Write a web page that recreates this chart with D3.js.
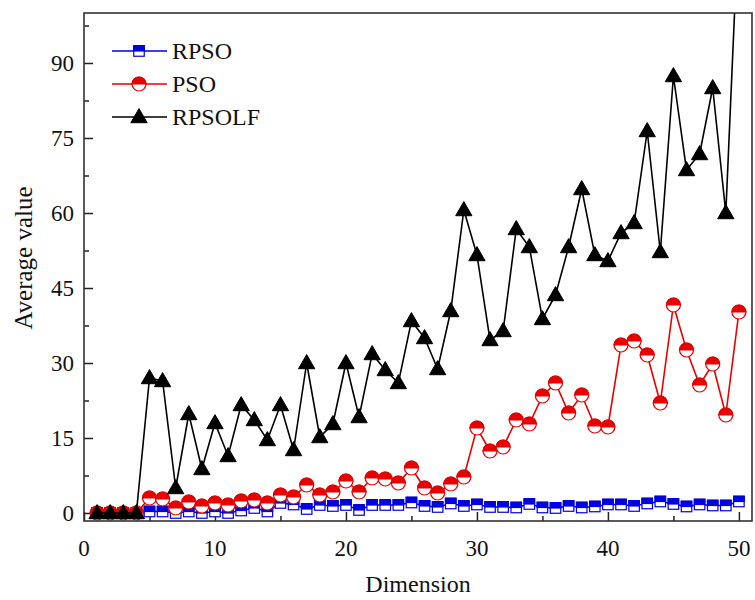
<!DOCTYPE html>
<html>
<head>
<meta charset="utf-8">
<script src="https://cdn.jsdelivr.net/npm/d3@7"></script>
<style>
  body { margin: 0; background: #fff; }
  text { font-family: "Liberation Serif", "DejaVu Serif", serif; }
</style>
</head>
<body>
<svg id="chart" width="755" height="600"></svg>
<script>
// Dimension 1..50
const dims = d3.range(1, 51);

const rpso = [0, 0, 0, 0, 0.3, 0.3, 0, 0.3, 0, 0.3,
  0, 0.5, 1.0, 0.3, 2.0, 1.7, 0.8, 1.6, 1.4, 1.6,
  0.6, 1.6, 1.6, 1.6, 2.1, 1.4, 1.2, 1.9, 1.4, 1.7,
  1.2, 1.2, 1.1, 1.8, 1.1, 1.0, 1.4, 1.1, 1.3, 1.7,
  1.7, 1.4, 1.9, 2.3, 1.8, 1.3, 1.7, 1.5, 1.5, 2.3];

const pso = [0, 0, 0, 0, 3.0, 2.8, 1.0, 2.2, 1.4, 2.0,
  1.6, 2.4, 2.6, 2.0, 3.6, 3.2, 5.6, 3.6, 4.2, 6.4,
  4.2, 7.0, 6.8, 6.0, 9.0, 5.0, 4.0, 5.8, 7.2, 17.0,
  12.4, 13.2, 18.6, 17.8, 23.4, 26.0, 20.0, 23.6, 17.4, 17.2,
  33.6, 34.4, 31.6, 22.0, 41.6, 32.6, 25.6, 29.8, 19.6, 40.2];

const rpsolf = [0, 0, 0, 0, 27.0, 26.4, 5.0, 19.8, 8.8, 18.0,
  11.4, 21.6, 18.6, 14.6, 21.6, 12.6, 30.0, 15.2, 17.8, 30.0,
  19.2, 31.8, 28.6, 26.0, 38.4, 35.0, 28.8, 40.4, 60.6, 51.6,
  34.6, 36.4, 56.8, 53.2, 38.8, 43.6, 53.2, 64.8, 51.6, 50.4,
  56.0, 58.0, 76.4, 52.2, 87.4, 68.6, 71.8, 85.0, 60.0, 120.0];

const yTicks = [0, 15, 30, 45, 60, 75, 90];
const xTicks = [0, 10, 20, 30, 40, 50];

const seriesNames = ["RPSO", "PSO", "RPSOLF"];
const seriesColors = ["#0000e0", "#e60000", "#000000"];
const seriesShapes = ["square", "circle", "triangle"];

const svg = d3.select("#chart");
const pLeft = 84, pRight = 752, pTop = 13, pBottom = 521;

const x = d3.scaleLinear().domain([0, 51]).range([pLeft, pRight]);
const y = d3.scaleLinear().domain([-1.6, 100]).range([pBottom, pTop]);

svg.append("defs").append("clipPath").attr("id", "plotclip")
  .append("rect").attr("x", pLeft).attr("y", pTop)
  .attr("width", pRight - pLeft).attr("height", pBottom - pTop);

// ticks (inward)
const gx = svg.append("g").attr("transform", `translate(0,${pBottom})`)
  .call(d3.axisTop(x).tickValues(d3.range(0, 51, 5)).tickSize(0).tickFormat(""));
gx.select(".domain").remove();
gx.selectAll(".tick line")
  .attr("y2", d => d % 10 === 0 ? -9 : -5)
  .attr("stroke", "#222").attr("stroke-width", 1.5);

const gy = svg.append("g").attr("transform", `translate(${pLeft},0)`)
  .call(d3.axisRight(y).tickValues(d3.range(0, 98, 7.5)).tickSize(0).tickFormat(""));
gy.select(".domain").remove();
gy.selectAll(".tick line")
  .attr("x2", d => d % 15 === 0 ? 9 : 5)
  .attr("stroke", "#222").attr("stroke-width", 1.5);

// tick labels
svg.append("g").selectAll("text").data(xTicks).join("text")
  .attr("x", d => x(d)).attr("y", 556)
  .attr("text-anchor", "middle").attr("font-size", 23).attr("fill", "#111")
  .text(d => d);

svg.append("g").selectAll("text").data(yTicks).join("text")
  .attr("x", 74).attr("y", d => y(d) + 8)
  .attr("text-anchor", "end").attr("font-size", 23).attr("fill", "#111")
  .text(d => d);

// axis titles
svg.append("text").attr("x", 418).attr("y", 592)
  .attr("text-anchor", "middle").attr("font-size", 24).attr("fill", "#111")
  .text("Dimension");
svg.append("text")
  .attr("transform", `translate(32,258) rotate(-90)`)
  .attr("text-anchor", "middle").attr("font-size", 25).attr("fill", "#111")
  .text("Average value");

// marker drawing
function drawMarker(g, shape, color, cx, cy) {
  if (shape === "square") {
    const s = 10.5;
    g.append("rect").attr("x", cx - s / 2).attr("y", cy - s / 2)
      .attr("width", s).attr("height", s).attr("fill", "#fff")
      .attr("stroke", color).attr("stroke-width", 1.2);
    g.append("rect").attr("x", cx - s / 2).attr("y", cy - s / 2)
      .attr("width", s).attr("height", s / 2).attr("fill", color)
      .attr("stroke", color).attr("stroke-width", 1.2);
  } else if (shape === "circle") {
    const r = 7;
    g.append("circle").attr("cx", cx).attr("cy", cy).attr("r", r)
      .attr("fill", "#fff").attr("stroke", color).attr("stroke-width", 1.2);
    g.append("path")
      .attr("d", `M${cx - r},${cy} A${r},${r} 0 0 1 ${cx + r},${cy} Z`)
      .attr("fill", color).attr("stroke", color).attr("stroke-width", 1.2);
  } else {
    g.append("path")
      .attr("d", d3.symbol(d3.symbolTriangle, 115)())
      .attr("transform", `translate(${cx},${cy + 1})`)
      .attr("fill", color).attr("stroke", color).attr("stroke-width", 1);
  }
}

const allSeries = [rpso, pso, rpsolf];
const line = d3.line().x((d, i) => x(dims[i])).y(d => y(d));
const plot = svg.append("g").attr("clip-path", "url(#plotclip)");

allSeries.forEach((vals, k) => {
  const g = plot.append("g");
  g.append("path").datum(vals).attr("d", line)
    .attr("fill", "none").attr("stroke", seriesColors[k]).attr("stroke-width", 1.6);
  vals.forEach((v, i) => {
    if (v <= 100) drawMarker(g, seriesShapes[k], seriesColors[k], x(dims[i]), y(v));
  });
});

// frame
svg.append("rect").attr("x", pLeft).attr("y", pTop)
  .attr("width", pRight - pLeft).attr("height", pBottom - pTop)
  .attr("fill", "none").attr("stroke", "#333").attr("stroke-width", 1.6);

// legend
const legend = svg.append("g");
seriesNames.forEach((name, k) => {
  const ly = 51 + k * 33;
  legend.append("line").attr("x1", 112).attr("x2", 167).attr("y1", ly).attr("y2", ly)
    .attr("stroke", seriesColors[k]).attr("stroke-width", 1.6);
  drawMarker(legend, seriesShapes[k], seriesColors[k], 139, ly);
  legend.append("text").attr("x", 172).attr("y", ly + 8)
    .attr("font-size", 24).attr("fill", "#111").text(name);
});
</script>
</body>
</html>
